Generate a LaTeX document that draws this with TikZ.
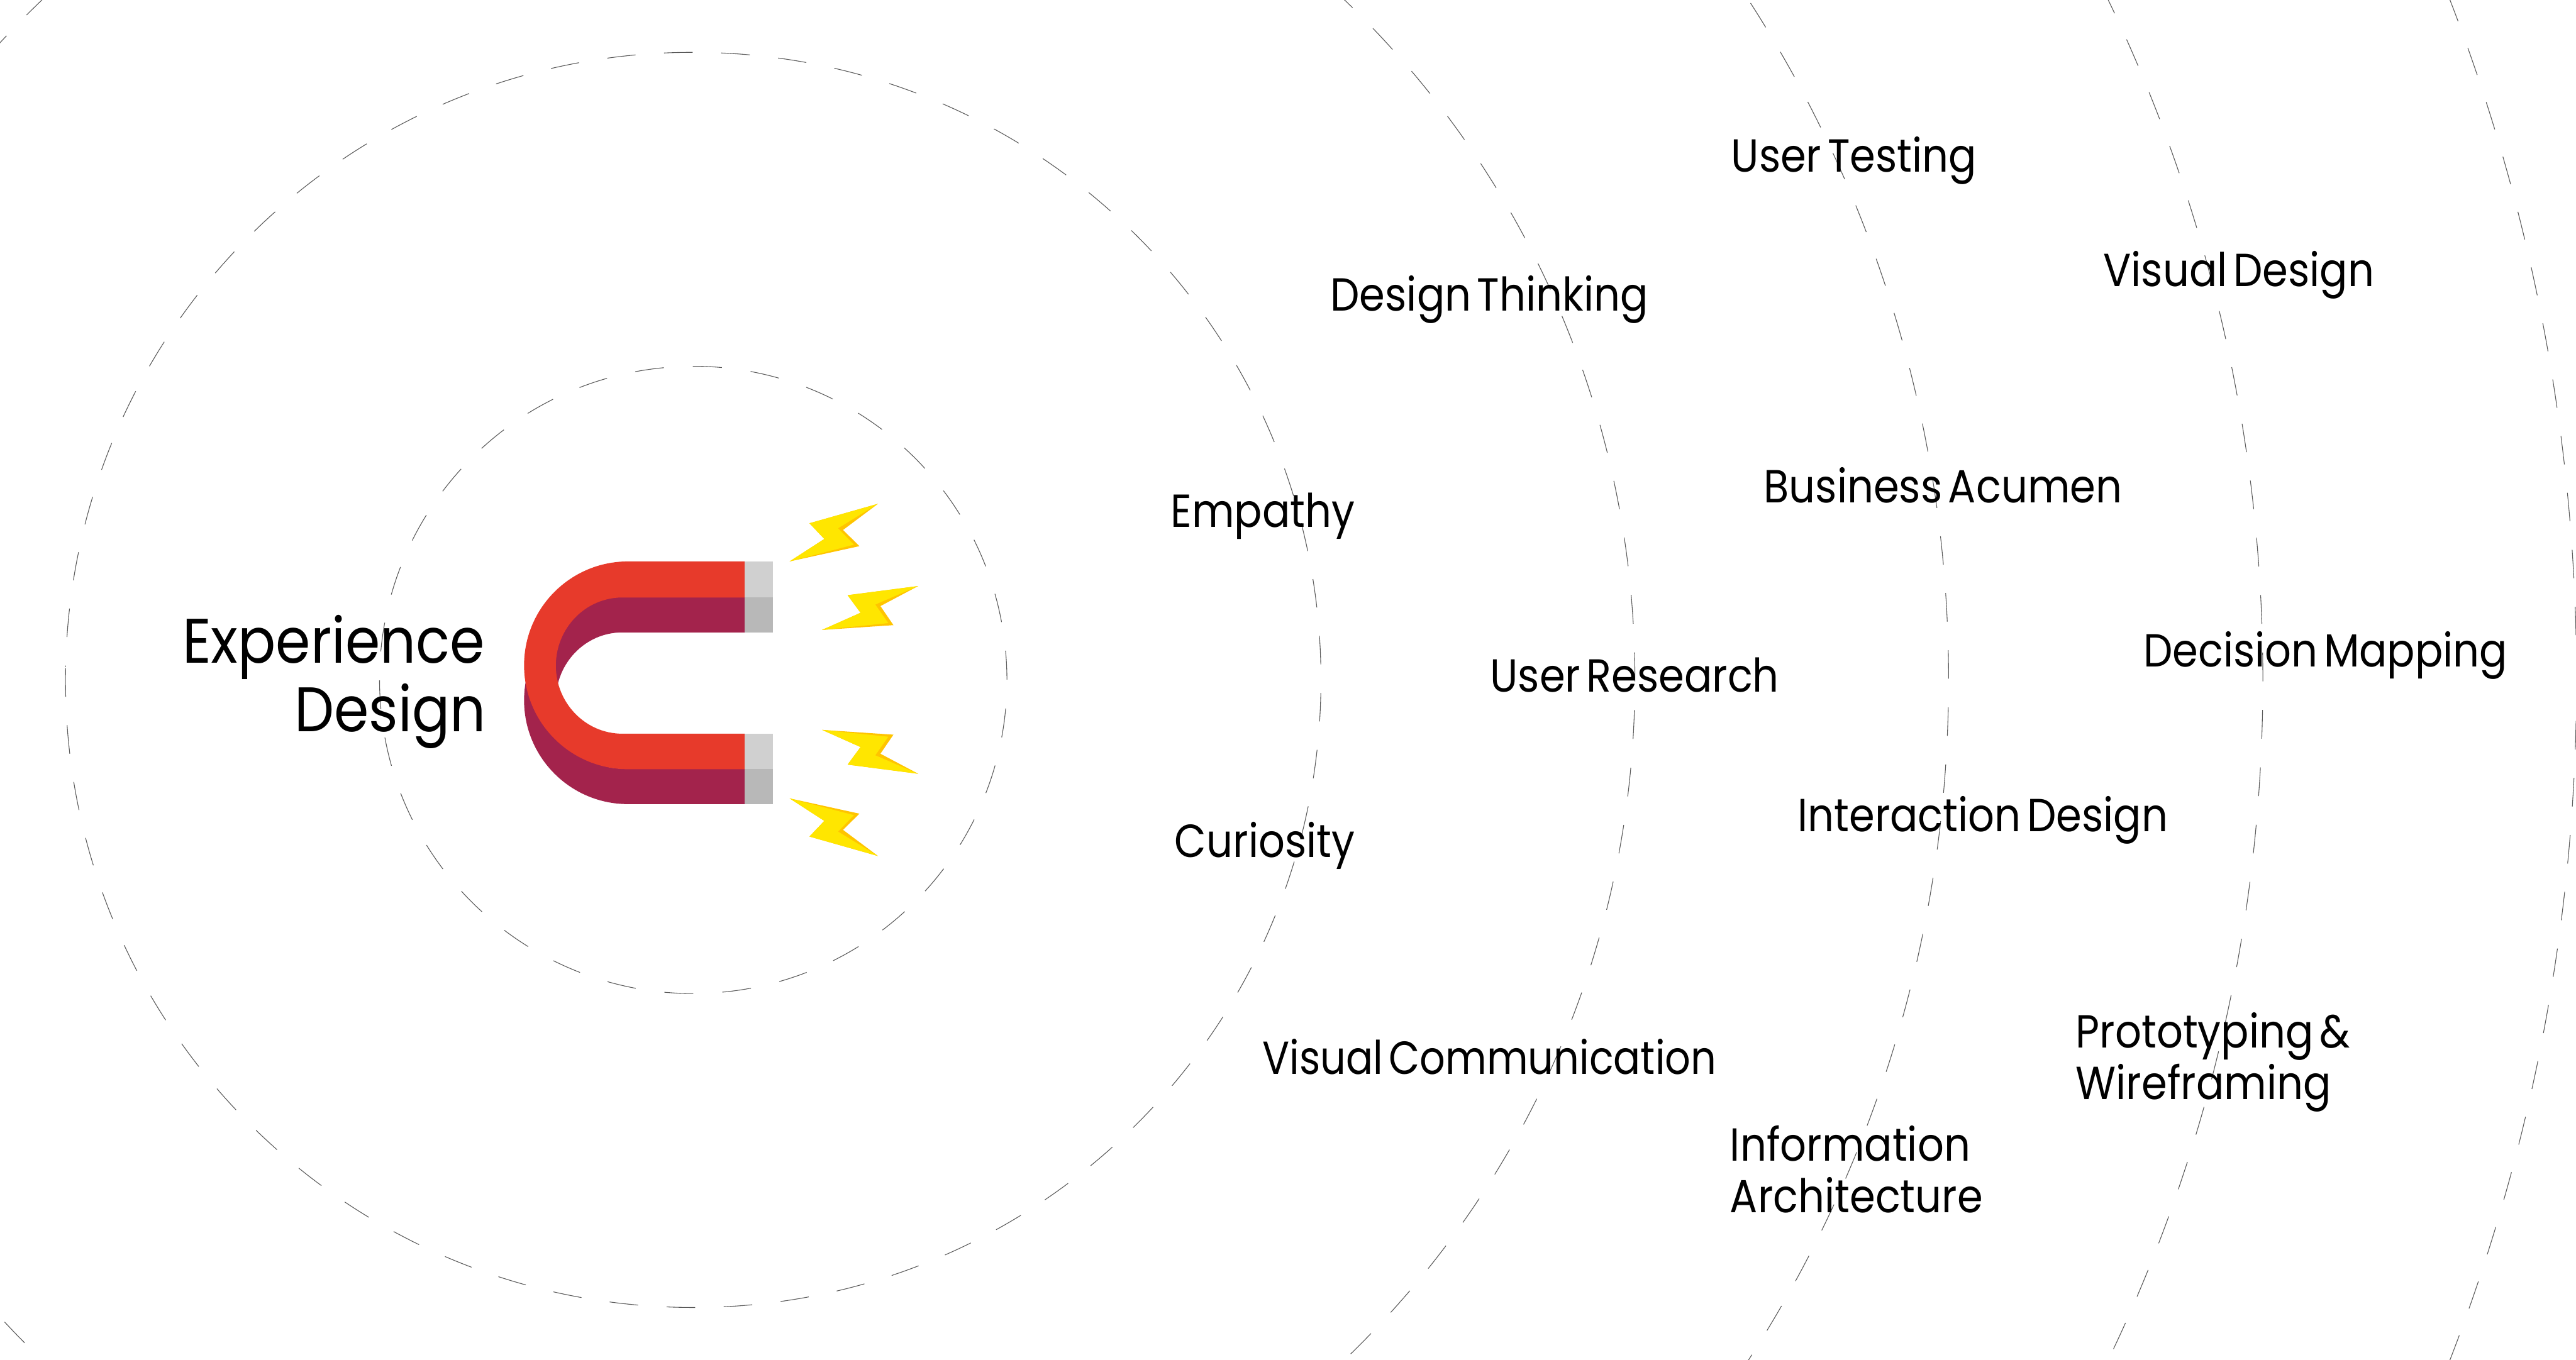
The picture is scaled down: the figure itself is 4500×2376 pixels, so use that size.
\documentclass[tikz,border=0pt]{standalone}
\usepackage{fontspec}
\newfontfamily\labfont[FakeStretch=0.89,WordSpace=0.55]{Poppins}
\definecolor{ringc}{HTML}{5A5A5A}
\definecolor{magred}{HTML}{E73A2B}
\definecolor{magdark}{HTML}{A3234C}
\definecolor{tiplight}{HTML}{D0D0D0}
\definecolor{tipdark}{HTML}{B8B8B8}
\definecolor{boltY}{HTML}{FFE600}
\definecolor{boltO}{HTML}{FFC400}
\tikzset{
  ring/.style={draw=ringc,line width=1.2pt},
  lab/.style={anchor=base west,inner sep=0pt,align=left,text=black,font=\labfont\fontsize{81}{90}\selectfont},
  title/.style={anchor=base east,inner sep=0pt,text=black,font=\labfont\fontsize{110}{120}\selectfont},
}
% radius, start angle of a dash, dash length
\newcommand{\ringarc}[3]{%
  \draw[ring,dash pattern=on #3pt off #3pt] (C) ++(#2:#1) arc[start angle=#2,delta angle=180,radius=#1];
  \draw[ring,dash pattern=on #3pt off #3pt,dash phase=#3pt] (C) ++(#2:#1) arc[start angle=#2,delta angle=-180,radius=#1];}
\newcommand{\magU}[2]{%
  \fill[#1] (1301,#2) -- (1097,#2) arc[start angle=-90,end angle=-270,radius=181.5]
     -- (1301,#2+363) -- (1301,#2+301) -- (1087,#2+301)
     arc[start angle=90,end angle=270,x radius=116,y radius=119] -- (1301,#2+63) -- cycle;}
\newcommand{\boltpair}{%
  \fill[boltO] (1533.7,880.3) -- (1472.7,926) -- (1501.3,954.3) -- (1379.3,981) -- (1440,941.7) -- (1414,914.3) -- cycle;
  \fill[boltY] (1533.7,880.3) -- (1464,923) -- (1491.7,951.7) -- (1379.3,981) -- (1440,941.7) -- (1414,914.3) -- cycle;
  \fill[boltO] (1604,1024) -- (1538,1059) -- (1560.7,1092.3) -- (1436,1100.7) -- (1503.3,1070.7) -- (1480.7,1040) -- cycle;
  \fill[boltY] (1604,1024) -- (1529,1056.3) -- (1551.7,1088.7) -- (1436,1100.7) -- (1503.3,1070.7) -- (1480.7,1040) -- cycle;
}
\begin{document}
\begin{tikzpicture}[x=1pt,y=-1pt]
  \path[use as bounding box,clip] (0,0) rectangle (4500,2376);
  \fill[white] (0,0) rectangle (4500,2376);
  \coordinate (C) at (1211,1188);
  \ringarc{548}{-5.34}{50.65}
  \ringarc{1096.6}{1.19}{49.9}
  \ringarc{1645}{1.84}{50.4}
  \ringarc{2193}{1.25}{49.88}
  \ringarc{2742}{1.10}{50.22}
  \ringarc{3290}{1.25}{49.9}
  % magnet
  \magU{magdark}{1042}
  \fill[tipdark] (1301,1042) rectangle (1350,1105);
  \fill[tipdark] (1301,1343) rectangle (1350,1405);
  \magU{magred}{981}
  \fill[tiplight] (1301,981) rectangle (1350,1044);
  \fill[tiplight] (1301,1282) rectangle (1350,1344);
  % bolts
  \boltpair
  \begin{scope}[shift={(0,2376)},yscale=-1]
    \boltpair
  \end{scope}
  % texts
  \node[title] (exp) at (847,1159) {Experience};
  \node[title] (des) at (849,1278) {Design};
  \node[lab] (empathy) at (2045,921) {Empathy};
  \node[lab] (curiosity) at (2052,1498) {Curiosity};
  \node[lab] (thinking) at (2324,543) {Design Thinking};
  \node[lab] (research) at (2603,1209.5) {User Research};
  \node[lab] (viscomm) at (2205,1877) {\addfontfeature{FakeStretch=0.865}Visual Communication};
  \node[lab] (testing) at (3024,300) {User Testing};
  \node[lab] (acumen) at (3081,878) {Business Acumen};
  \node[lab] (interaction) at (3140,1453) {Interaction Design};
  \node[lab] (infoarch) at (3022,2119) {Information\\Architecture};
  \node[lab] (visdes) at (3674,500) {Visual Design};
  \node[lab] (mapping) at (3744,1164.7) {Decision Mapping};
  \node[lab] (proto) at (3626,1921) {Prototyping \&\\Wireframing};
\end{tikzpicture}
\end{document}
